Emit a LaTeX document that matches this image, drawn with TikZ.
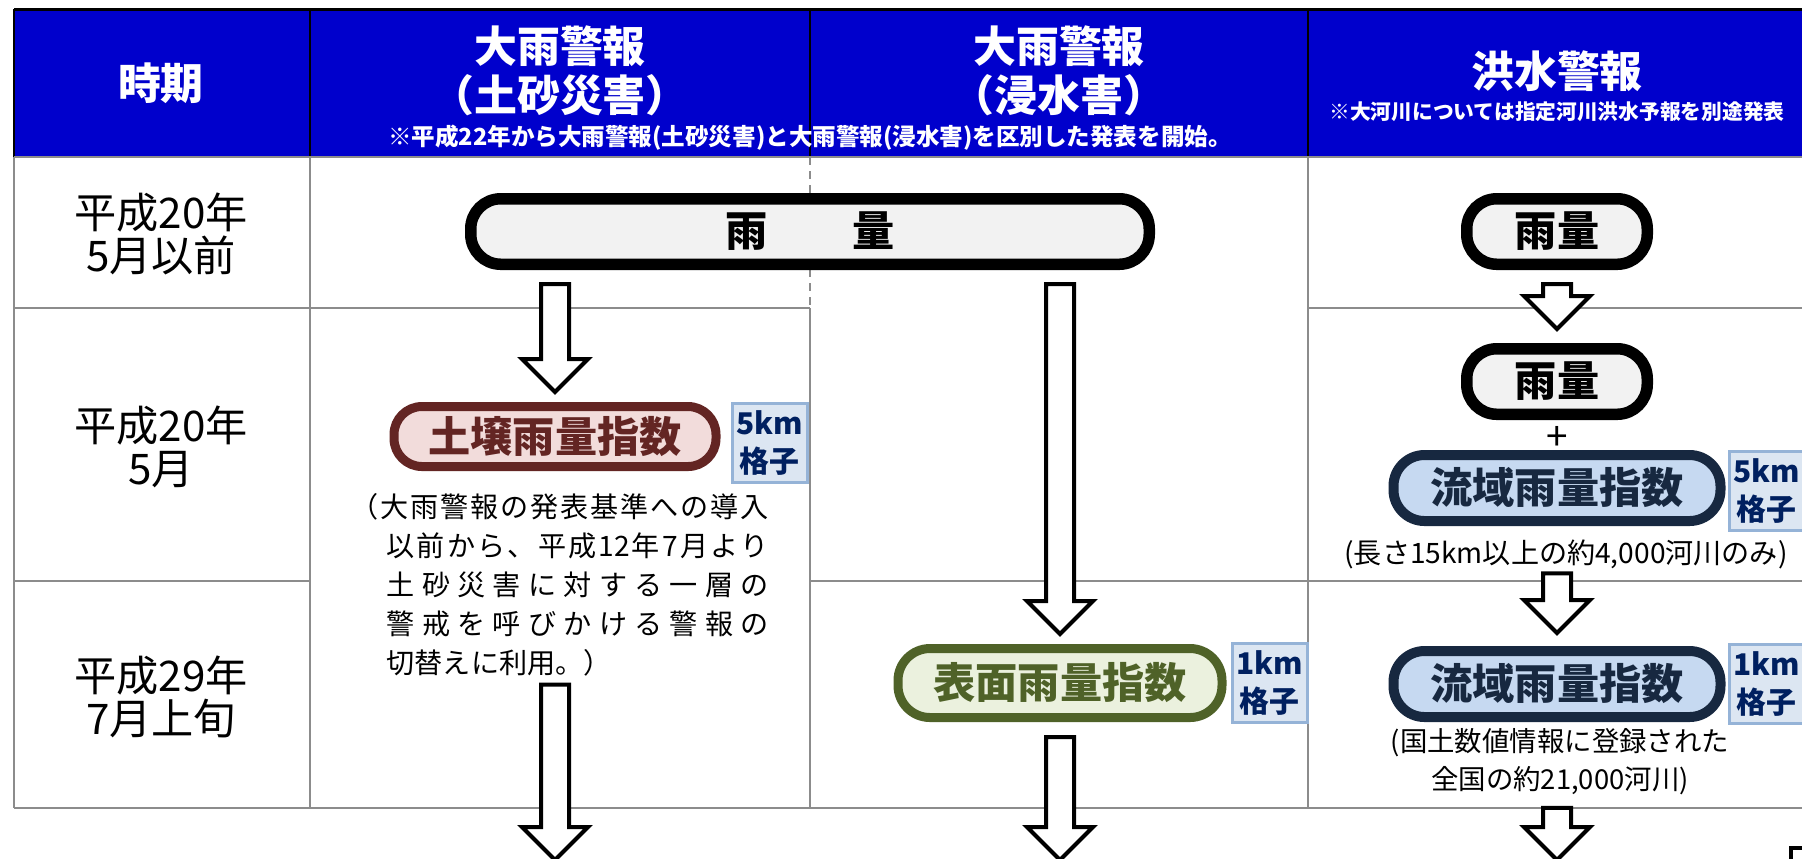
\documentclass[tikz,border=0pt]{standalone}
\usepackage{fontspec}
\setmainfont{Noto Sans CJK JP}
\usetikzlibrary{positioning, calc}
\definecolor{headblue}{RGB}{0,0,204}
\definecolor{gridgray}{RGB}{140,140,140}
\definecolor{rainfill}{RGB}{242,242,242}
\definecolor{soilred}{RGB}{99,37,35}
\definecolor{soilfill}{RGB}{242,220,219}
\definecolor{surfgreen}{RGB}{79,98,40}
\definecolor{surffill}{RGB}{235,241,222}
\definecolor{basinnavy}{RGB}{23,40,64}
\definecolor{basinfill}{RGB}{198,217,241}
\definecolor{meshfill}{RGB}{220,230,242}
\definecolor{meshline}{RGB}{149,179,215}
\definecolor{meshtext}{RGB}{0,32,96}

% 文字を均等に配置する行
\newcommand{\spreadline}[2]{\hbox to #1{\spreadfirst#2\spreadend}}
\def\spreadfirst#1{#1\spreadnext}
\def\spreadendtmp{\spreadend}
\def\spreadnext#1{\def\spreadtmp{#1}\ifx\spreadtmp\spreadendtmp\else\hfill#1\expandafter\spreadnext\fi}

% 白抜きの下向き矢印
\newcommand{\hollowarrow}[2]{%
  \path (#1) coordinate (hastart) (#2) coordinate (haend);
  \draw[hollow] ($(hastart)+(-14,0)$) -- ($(hastart|-haend)+(-14,-33)$) -- ($(hastart|-haend)+(-33,-33)$) -- (hastart|-haend) -- ($(hastart|-haend)+(33,-33)$) -- ($(hastart|-haend)+(14,-33)$) -- ($(hastart)+(14,0)$) -- cycle;}

\begin{document}
\begin{tikzpicture}[x=0.1mm, y=-0.1mm,
    headtext/.style={text=white, font=\fontsize{12.2}{14}\selectfont\bfseries, align=center, inner sep=0pt},
    headnote/.style={text=white, font=\fontsize{6.7}{8}\selectfont\bfseries, inner sep=0pt},
    periodtext/.style={font=\fontsize{12}{12.2}\selectfont, align=center, inner sep=0pt},
    pill/.style={draw, align=center, inner sep=0pt, font=\fontsize{12}{14}\selectfont\bfseries},
    rainpill/.style={pill, draw=black, fill=rainfill, text=black, line width=1.15mm, minimum height=6.55mm, rounded corners=3mm},
    soilpill/.style={pill, draw=soilred, fill=soilfill, text=soilred, line width=0.9mm, minimum width=32.2mm, minimum height=6mm, rounded corners=2.8mm},
    surfpill/.style={pill, draw=surfgreen, fill=surffill, text=surfgreen, line width=0.9mm, minimum width=32.4mm, minimum height=6.9mm, rounded corners=3.2mm},
    basinpill/.style={pill, draw=basinnavy, fill=basinfill, text=basinnavy, line width=1mm, minimum width=32.7mm, minimum height=6.6mm, rounded corners=3.1mm},
    meshbox/.style={draw=meshline, fill=meshfill, text=meshtext, line width=0.3mm, minimum width=7.5mm, minimum height=7.9mm, inner sep=0pt, align=center, font=\fontsize{8.5}{11}\selectfont\bfseries},
    smalltext/.style={font=\fontsize{8}{11.1}\selectfont, inner sep=0pt, align=center},
    hollow/.style={draw=black, fill=white, line width=0.4mm, line join=miter},
    gridline/.style={draw=gridgray, line width=0.25mm}]
    \useasboundingbox (0,0) rectangle (1802,858);

    % ヘッダー
    \fill[headblue] (14,9) rectangle (1802,157);
    \draw[line width=0.3mm] (14,9) -- (1802,9);
    \draw[line width=0.25mm] (14,9) -- (14,157);
    \draw[line width=0.25mm] (310,9) -- (310,157);
    \draw[line width=0.25mm] (810,9) -- (810,157);
    \draw[line width=0.25mm] (1308,9) -- (1308,157);
    \node[headtext] (hperiod) at (161,83) {時期};
    \node[headtext] (hsoil) at (560,70.5) {大雨警報\\（土砂災害）};
    \node[headtext] (hinund) at (1059,70.5) {大雨警報\\（浸水害）};
    \node[headtext] (hflood) at (1557,71) {洪水警報};
    \node[headnote] (hnote) at (810,138) {※平成22年から大雨警報(土砂災害)と大雨警報(浸水害)を区別した発表を開始。};
    \node[headnote, font=\fontsize{5.9}{7}\selectfont\bfseries] (hfloodnote) at (1557,111.5) {※大河川については指定河川洪水予報を別途発表};

    % 表の罫線
    \draw[gridline] (14,157) -- (1802,157);
    \draw[gridline] (14,308) -- (810,308);
    \draw[gridline] (1308,308) -- (1802,308);
    \draw[gridline] (14,581) -- (310,581);
    \draw[gridline] (810,581) -- (1802,581);
    \draw[gridline] (14,808) -- (1802,808);
    \draw[gridline] (14,157) -- (14,808);
    \draw[gridline] (310,157) -- (310,808);
    \draw[gridline, dash pattern=on 0.8mm off 0.6mm] (810,157) -- (810,308);
    \draw[gridline] (810,308) -- (810,808);
    \draw[gridline] (1308,157) -- (1308,808);

    % 時期
    \node[periodtext] (p1) at (161,234) {平成20年\\5月以前};
    \node[periodtext] (p2) at (161,446.5) {平成20年\\5月};
    \node[periodtext] (p3) at (161,697) {平成29年\\7月上旬};

    % 雨量
    \node[rainpill, minimum width=67.85mm] (rainbig) at (810,231.5) {雨　　量};

    % 大雨警報（土砂災害）
    \node[soilpill] (soil) at (555,436.5) {土壌雨量指数};
    \node[meshbox, right=1mm of soil.north east, anchor=north west] (meshsoil) {5km\\格子};
    \node[smalltext, align=left, anchor=west] (soilnote) at (350,584.5) {\spreadline{41.8mm}{（大雨警報の発表基準への導入}\\\hspace*{3.6mm}\spreadline{38.2mm}{以前から、平成{12}年7月より}\\\hspace*{3.6mm}\spreadline{38.2mm}{土砂災害に対する一層の}\\\hspace*{3.6mm}\spreadline{38.2mm}{警戒を呼びかける警報の}\\\hspace*{3.6mm}切替えに利用。）};

    % 大雨警報（浸水害）
    \node[surfpill] (surf) at (1060,683) {表面雨量指数};
    \node[meshbox, right=0.4mm of surf] (meshsurf) {1km\\格子};

    % 洪水警報
    \node[rainpill, minimum width=18.05mm] (rainA) at (1557,231.5) {雨量};
    \node[rainpill, minimum width=18.05mm] (rainB) at (1557,381.5) {雨量};
    \node[font=\fontsize{11}{12}\selectfont, inner sep=0pt] (plus) at (1557,438) {+};
    \node[basinpill] (basinA) at (1557,488) {流域雨量指数};
    \node[meshbox, right=0.2mm of basinA.north east, anchor=north west] (meshA) {5km\\格子};
    \node[smalltext] (basinAnote) at (1566,554) {(長さ15km以上の約4,000河川のみ)};
    \node[basinpill] (basinB) at (1557,684) {流域雨量指数};
    \node[meshbox, right=0.2mm of basinB] (meshB) {1km\\格子};
    \node[smalltext, font=\fontsize{7.8}{10.8}\selectfont] (basinBnote) at (1560,762) {(国土数値情報に登録された\\全国の約21,000河川)};

    % 矢印
    \coordinate (bottomedge) at (0,860);
    \hollowarrow{$(rainbig.south -| soil.north)+(0,14)$}{$(soil.north)+(0,-10)$}
    \hollowarrow{$(soilnote.south -| soil.south)+(0,8)$}{soil.south |- bottomedge}
    \hollowarrow{$(rainbig.south -| surf.north)+(0,14)$}{$(surf.north)+(0,-10)$}
    \hollowarrow{$(surf.south)+(0,15)$}{surf.south |- bottomedge}
    \hollowarrow{$(rainA.south)+(0,14)$}{$(rainB.north)+(0,-14)$}
    \hollowarrow{$(basinAnote.south -| basinA.south)+(0,4)$}{$(basinB.north)+(0,-13)$}
    \hollowarrow{$(basinBnote.south -| basinB.south)+(0,12)$}{basinB.south |- bottomedge}

    % 右下の枠の角
    \draw[line width=0.45mm] (1791,862) -- (1791,848) -- (1804,848);
\end{tikzpicture}
\end{document}
